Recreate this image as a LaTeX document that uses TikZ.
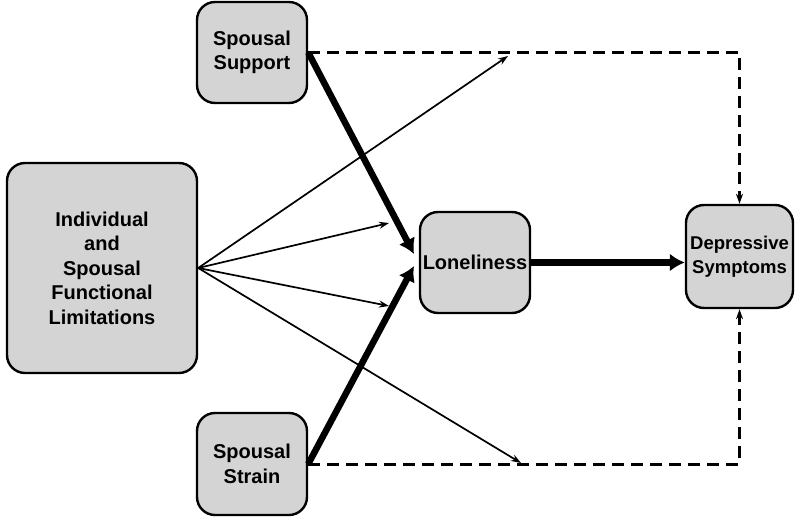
\documentclass[tikz,border=0pt]{standalone}
\usepackage{fontspec}
\setmainfont{Liberation Sans}
\usetikzlibrary{arrows.meta}

\definecolor{boxgray}{RGB}{212,212,212}
\tikzset{
  varbox/.style={draw=black, line width=2.4pt, fill=boxgray, rounded corners=18pt,
    align=center, inner sep=2pt, font=\fontsize{20}{24.5}\selectfont\bfseries},
  strongpath/.style={line width=6.5pt, -{Latex[length=15pt,width=18pt]}},
  thinpath/.style={line width=1.7pt, -{Stealth[length=10pt,width=7pt]}},
  dashpath/.style={line width=3pt, dash pattern=on 12pt off 7pt, -{Stealth[length=10pt,width=7pt]}}
}

\begin{document}
\begin{tikzpicture}[x=1pt,y=-1pt]
\useasboundingbox (0,0) rectangle (800,525);

% variables
\node[varbox, minimum width=110pt, minimum height=101pt] (support) at (252,52.5) {Spousal\\Support};
\node[varbox, minimum width=110pt, minimum height=102pt] (strain) at (252,464) {Spousal\\Strain};
\node[varbox, minimum width=190pt, minimum height=210pt] (limits) at (102,268) {Individual\\and\\Spousal\\Functional\\Limitations};
\node[varbox, minimum width=110pt, minimum height=101pt] (lonely) at (475,262.5) {Loneliness};
\node[varbox, minimum width=107pt, minimum height=103pt, font=\fontsize{18.5}{24}\selectfont\bfseries] (depress) at (739.5,256.5) {Depressive\\Symptoms};

% free ends
\coordinate (tipA) at (414,254);
\coordinate (tipB) at (414,266);
\coordinate (onSupport) at (508,56);
\coordinate (upLonely) at (389,223);
\coordinate (lowLonely) at (389,306);
\coordinate (onStrain) at (521,463);

% direct paths
\draw[dashpath] (support.east) -| (depress.north);
\draw[dashpath] (strain.east) -| (depress.south);

% moderation by limitations
\draw[thinpath] (limits.east) -- (onSupport);
\draw[thinpath] (limits.east) -- (upLonely);
\draw[thinpath] (limits.east) -- (lowLonely);
\draw[thinpath] (limits.east) -- (onStrain);

% mediated paths
\draw[strongpath] (support.east) -- (tipA);
\draw[strongpath] (strain.east) -- (tipB);
\draw[strongpath] (lonely.east) -- (lonely.east -| depress.west);
\end{tikzpicture}
\end{document}
